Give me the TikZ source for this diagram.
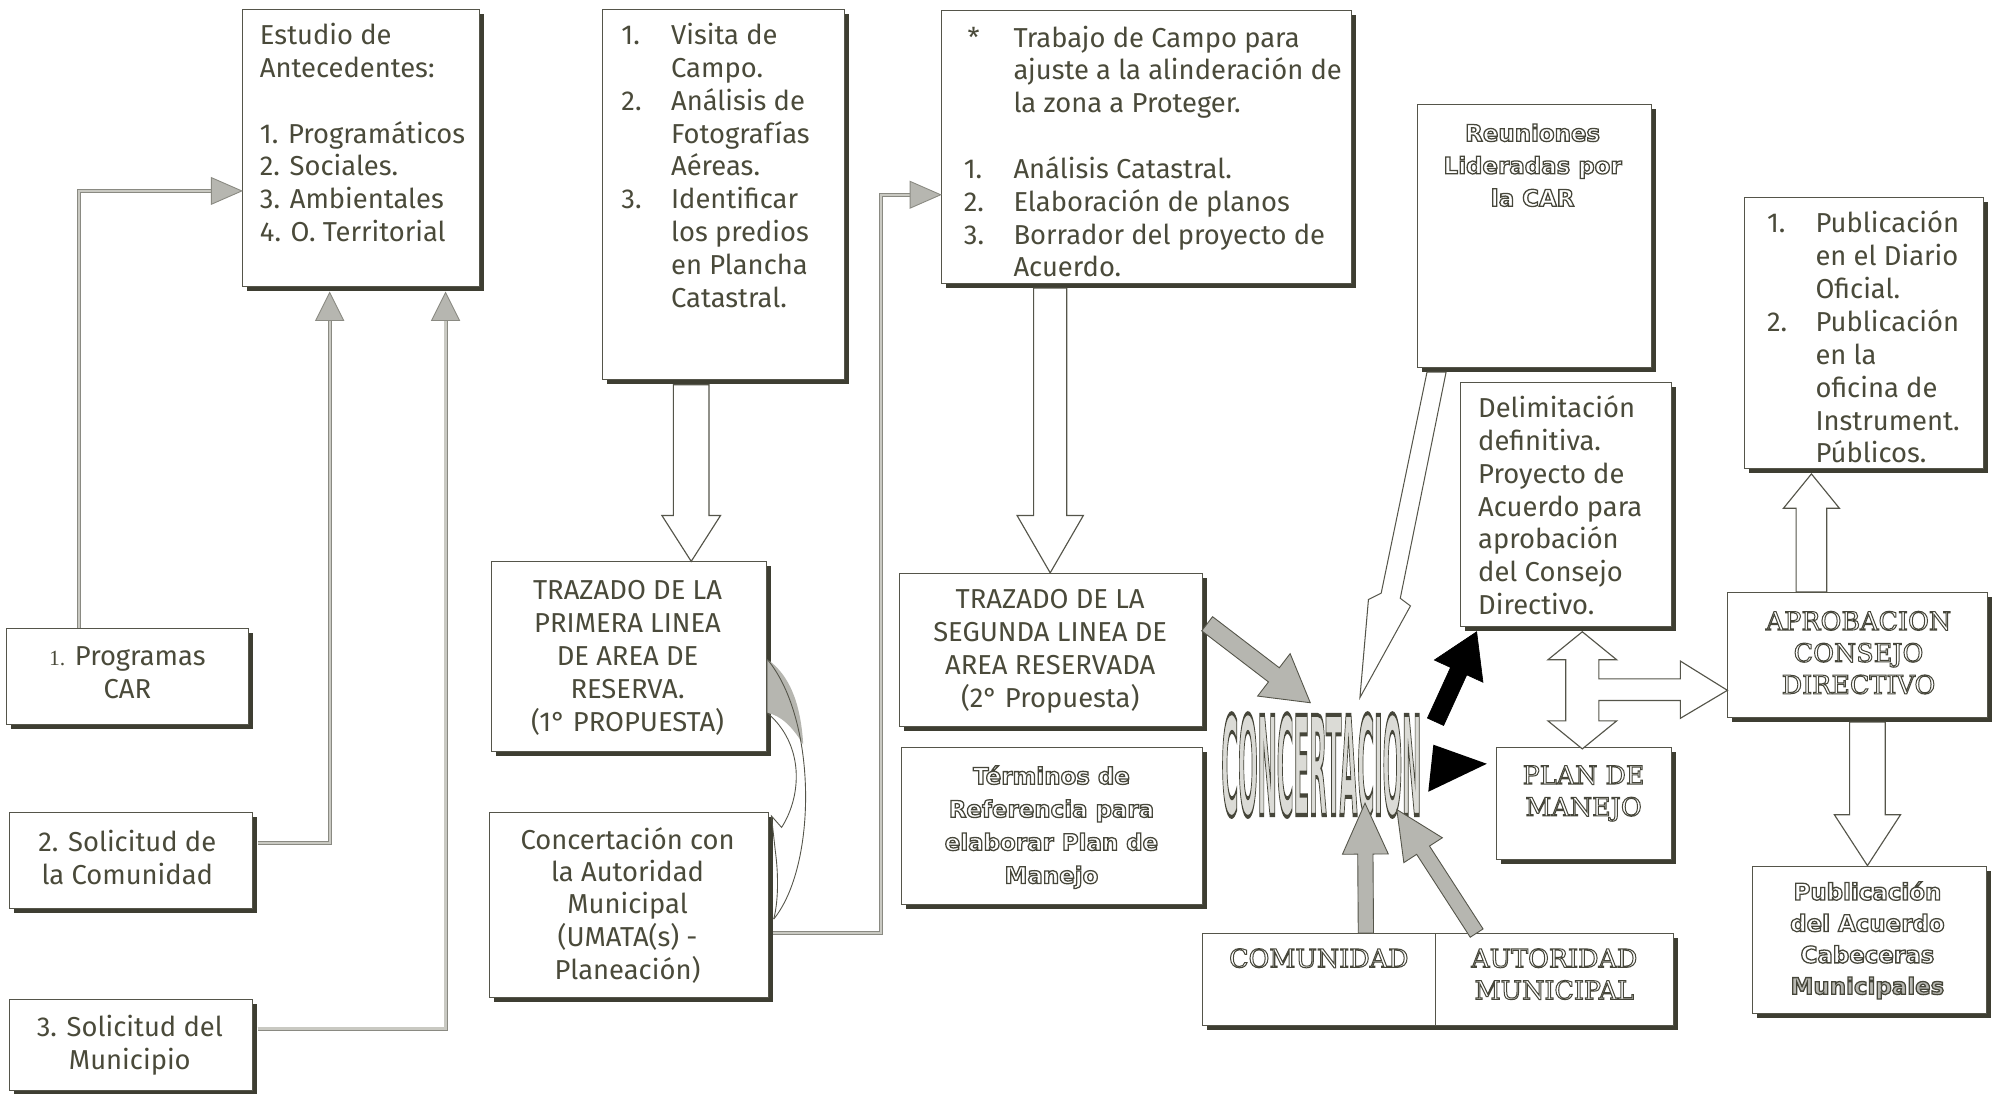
\documentclass[tikz,border=0pt]{standalone}
\usepackage{fontspec}
\usepackage{graphicx}
\setmainfont{Fira Sans}
\newfontfamily\olsans{DejaVu Sans}
\newfontfamily\olserif{DejaVu Serif}
\newfontfamily\numserif{Liberation Serif}
\usetikzlibrary{calc,shadows,arrows.meta}
\definecolor{txtc}{HTML}{4A4A3A}
\definecolor{edgec}{HTML}{55554A}
\definecolor{shdc}{HTML}{3E3E32}
\definecolor{connc}{HTML}{8A8A82}
\definecolor{conninc}{HTML}{C9C9C2}
\definecolor{tipfc}{HTML}{B6B6B0}
\definecolor{olc}{HTML}{46463A}
% outlined text: stroke only
\newcommand\outl[2][1.0]{\special{pdf:literal direct #1 w 1 Tr}#2\special{pdf:literal direct 0 Tr}}
% outlined text with a grey fill
\newcommand\outlf[3][1.0]{\special{pdf:literal direct #2 rg #1 w 2 Tr}#3\special{pdf:literal direct 0 Tr}}
\newcommand\tipright[1]{\draw[tipst] (#1) -- ++(-24,-10.5) -- ++(0,21) -- cycle;}
\newcommand\tipup[1]{\draw[tipst] (#1) -- ++(-11,22) -- ++(22,0) -- cycle;}
\newcommand\blockarrow[6]{%
  \coordinate (ba1) at #2; \coordinate (ba2) at #3;
  \coordinate (bah) at ($(ba2)!#6!(ba1)$);
  \draw[#1] ($(ba1)!#4!90:(ba2)$) -- ($(bah)!#4!90:(ba2)$) -- ($(bah)!#5!90:(ba2)$) -- (ba2)
     -- ($(bah)!#5!-90:(ba2)$) -- ($(bah)!#4!-90:(ba2)$) -- ($(ba1)!#4!-90:(ba2)$) -- cycle;}
\begin{document}
\begin{tikzpicture}[x=1pt,y=-1pt, font=\fontsize{21.5}{25.8}\selectfont,
 box/.style={draw=edgec, line width=0.8pt, fill=white, inner sep=0pt, anchor=north west,
   general shadow={fill=shdc, shadow xshift=3.5pt, shadow yshift=-3.5pt}},
 tl/.style={inner sep=0pt, text=txtc},
 olbox/.style={inner sep=0pt, text=olc, font=\olsans\bfseries\fontsize{18}{25.5}\selectfont},
 olcaps/.style={inner sep=0pt, text=olc, font=\olserif\fontsize{20}{25}\selectfont},
 conn/.style={draw=connc, line width=0.7pt, double=conninc, double distance=1.8pt, line join=miter},
 tipst/.style={fill=tipfc, draw=connc, line width=0.7pt, line join=miter},
 hollow/.style={fill=white, draw=edgec, line width=0.9pt, line join=miter},
 grayarr/.style={fill=tipfc, draw=edgec, line width=0.7pt, line join=miter},
 blackarr/.style={fill=black, draw=black, line width=0.5pt, line join=miter}]
\useasboundingbox (0,0) rectangle (1568,859);
\fill[white] (0,0) rectangle (1568,859);

% boxes
\node[box, minimum width=186, minimum height=218] (A) at (190,7) {};
\node[box, minimum width=190, minimum height=291] (B) at (473,7) {};
\node[box, minimum width=322, minimum height=214] (C) at (739,8) {};
\node[box, minimum width=184, minimum height=206] (D) at (1113,82) {};
\node[box, minimum width=188, minimum height=213] (E) at (1370,155) {};
\node[box, minimum width=166, minimum height=192] (F) at (1147,300) {};
\node[box, minimum width=204, minimum height=98] (G) at (1357,465) {};
\node[box, minimum width=138, minimum height=88] (H) at (1175,587) {};
\node[box, minimum width=184, minimum height=116] (I) at (1376,680) {};
\node[box, minimum width=370, minimum height=72] (J) at (944,733) {};
\node[box, minimum width=238, minimum height=120] (K) at (706,450) {};
\node[box, minimum width=236, minimum height=123] (L) at (708,587) {};
\node[box, minimum width=216, minimum height=149] (M) at (386,441) {};
\node[box, minimum width=219, minimum height=145] (N) at (384,638) {};
\node[box, minimum width=190, minimum height=76] (O) at (5,493) {};
\node[box, minimum width=191, minimum height=75] (P) at (7,638) {};
\node[box, minimum width=191, minimum height=71] (Q) at (7,785) {};
\draw[draw=edgec, line width=0.8pt] ($(J.north west)+(184,0)$) -- ($(J.south west)+(184,0)$);

% texts
\node[tl, anchor=base west] (At) at (204,35) {\begin{tabular}[t]{@{}l@{}}Estudio de\\Antecedentes:\\[25.8pt]1. Programáticos\\2. Sociales.\\3. Ambientales\\4. O. Territorial\end{tabular}};
\node[tl, anchor=base west] (Bt) at (488,35) {\begin{tabular}[t]{@{}p{39pt}@{}l@{}}1.&Visita de\\&Campo.\\2.&Análisis de\\&Fotografías\\&Aéreas.\\3.&Identificar\\&los predios\\&en Plancha\\&Catastral.\end{tabular}};
\node[tl, anchor=base west] (Ct) at (757,37) {\begin{tabular}[t]{@{}p{39pt}@{}l@{}}\hspace{3pt}*&Trabajo de Campo para\\&ajuste a la alinderación de\\&la zona a Proteger.\\[25.8pt]1.&Análisis Catastral.\\2.&Elaboración de planos\\3.&Borrador del proyecto de\\&Acuerdo.\end{tabular}};
\node[olbox, anchor=base] (Dt) at (1204,111) {\outl{\begin{tabular}[t]{@{}c@{}}Reuniones\\Lideradas por\\la CAR\end{tabular}}};
\node[tl, anchor=base west] (Et) at (1388,183) {\begin{tabular}[t]{@{}p{38pt}@{}l@{}}1.&Publicación\\&en el Diario\\&Oficial.\\2.&Publicación\\&en la\\&oficina de\\&Instrument.\\&Públicos.\end{tabular}};
\node[tl, anchor=base west] (Ft) at (1161,328) {\begin{tabular}[t]{@{}l@{}}Delimitación\\definitiva.\\Proyecto de\\Acuerdo para\\aprobación\\del Consejo\\Directivo.\end{tabular}};
\node[olcaps, anchor=base] (Gt) at (1460,495) {\outl[0.8]{\begin{tabular}[t]{@{}c@{}}APROBACION\\CONSEJO\\DIRECTIVO\end{tabular}}};
\node[olcaps, anchor=base] (Ht) at (1244,616) {\outl[0.8]{\begin{tabular}[t]{@{}c@{}}PLAN DE\\MANEJO\end{tabular}}};
\node[olbox, anchor=base, font=\olsans\bfseries\fontsize{18}{24.7}\selectfont] (It) at (1467,707) {\outl{\begin{tabular}[t]{@{}c@{}}Publicación\\del Acuerdo\\Cabeceras\\\outlf{0.72 0.72 0.70}{Municipales}\end{tabular}}};
\node[olcaps, anchor=base] (J1t) at (1036,760) {\outl[0.8]{COMUNIDAD}};
\node[olcaps, anchor=base] (J2t) at (1221,760) {\outl[0.8]{\begin{tabular}[t]{@{}c@{}}AUTORIDAD\\MUNICIPAL\end{tabular}}};
\node[tl, anchor=base] (Kt) at (825,478) {\begin{tabular}[t]{@{}c@{}}TRAZADO DE LA\\SEGUNDA LINEA DE\\AREA RESERVADA\\(2° Propuesta)\end{tabular}};
\node[olbox, anchor=base, font=\olsans\bfseries\fontsize{18}{26}\selectfont] (Lt) at (826,616) {\outl{\begin{tabular}[t]{@{}c@{}}Términos de\\Referencia para\\elaborar Plan de\\Manejo\end{tabular}}};
\node[tl, anchor=base] (Mt) at (493,471) {\begin{tabular}[t]{@{}c@{}}TRAZADO DE LA\\PRIMERA LINEA\\DE AREA DE\\RESERVA.\\(1° PROPUESTA)\end{tabular}};
\node[tl, anchor=base, font=\fontsize{21.5}{25.5}\selectfont] (Nt) at (493,667) {\begin{tabular}[t]{@{}c@{}}Concertación con\\la Autoridad\\Municipal\\(UMATA(s) -\\Planeación)\end{tabular}};
\node[tl, anchor=base] (Ot) at (100,523) {\begin{tabular}[t]{@{}c@{}}{\numserif\fontsize{17}{20}\selectfont 1.} Programas\\CAR\end{tabular}};
\node[tl, anchor=base] (Pt) at (100,669) {\begin{tabular}[t]{@{}c@{}}2. Solicitud de\\la Comunidad\end{tabular}};
\node[tl, anchor=base] (Qt) at (102,814) {\begin{tabular}[t]{@{}c@{}}3. Solicitud del\\Municipio\end{tabular}};

% CONCERTACION
\node[inner sep=0pt, text=olc] (CC) at (1038,601) {\resizebox{157pt}{80pt}{\olsans\bfseries\fontsize{24}{24}\selectfont\outlf[0.7]{0.86 0.86 0.84}{CONCERTACION}}};

% thin connectors
\coordinate (o1) at ($(O.north west)+(57,0)$);
\coordinate (a1) at ($(A.north west)+(0,143)$);
\draw[conn] (o1) |- ($(a1)+(-24,0)$);
\tipright{a1}
\coordinate (p1) at ($(P.north east)+(3.5,24)$);
\coordinate (a2) at ($(A.south west)+(69,4)$);
\draw[conn] (p1) -| ($(a2)+(0,22)$);
\tipup{a2}
\coordinate (q1) at ($(Q.north east)+(3.5,23)$);
\coordinate (a3) at ($(A.south west)+(160,4)$);
\draw[conn] (q1) -| ($(a3)+(0,22)$);
\tipup{a3}
\coordinate (n1) at ($(N.north east)+(3.5,95)$);
\coordinate (c1) at ($(C.north west)+(0,145)$);
\draw[conn] (n1) -| ($(c1)+(-47,0)$) -- ($(c1)+(-24,0)$);
\tipright{c1}

% curved arrow between M and N
\coordinate (m1) at ($(M.north east)+(0,77)$);
\coordinate (m2) at ($(M.north east)+(0,119)$);
\coordinate (n2) at ($(N.north east)+(4,84)$);
\fill[tipfc] (m1) .. controls (620,530) and (629,552) .. (631,585) .. controls (622,570) and (613,562) .. (m2) -- cycle;
\draw[edgec, line width=0.7pt] (m1) .. controls (642,565) and (642,680) .. (n2);
\draw[edgec, line width=0.7pt, line join=miter] (m2) .. controls (632,585) and (630,625) .. (614,650) -- (606,641) -- (609,668) .. controls (612,690) and (611,710) .. (n2);

% hollow block arrows
\blockarrow{hollow}{($(B.south west)+(70,3.5)$)}{($(M.north west)+(157,0)$)}{14pt}{23pt}{36pt}
\blockarrow{hollow}{($(C.south west)+(86,3.5)$)}{($(K.north west)+(119,0)$)}{13pt}{26pt}{45pt}
\blockarrow{hollow}{($(G.north west)+(66,0)$)}{($(E.south west)+(53,3.5)$)}{12pt}{22pt}{27pt}
\blockarrow{hollow}{($(G.south west)+(110,3.5)$)}{($(I.north west)+(91,0)$)}{14pt}{26pt}{40pt}
\coordinate (dt) at ($(F.south west)+(96,3.5)$);
\begin{scope}[shift={(dt)}]
\draw[hollow] (0,0) -- (27,22) -- (13,22) -- (13,37) -- (77,37) -- (77,23) -- (114,46) -- (77,68) -- (77,54)
  -- (13,54) -- (13,70) -- (27,70) -- (0,92) -- (-27,70) -- (-13,70) -- (-13,22) -- (-27,22) -- cycle;
\end{scope}

% lightning arrow from D
\coordinate (l1) at ($(D.south west)+(8,3.5)$);
\coordinate (l2) at ($(D.south west)+(23,3.5)$);
\coordinate (lt) at ($(CC.north west)+(109,-12)$);
\draw[hollow, line width=0.8pt] (l1) -- (1085,466) -- (1075,471) -- (lt) -- (1108,476) -- (1100,470) -- (l2) -- cycle;

% gray filled arrows
\blockarrow{grayarr}{($(K.north east)+(3.5,40)$)}{($(CC.north west)+(70,-8)$)}{7pt}{21pt}{36pt}
\blockarrow{grayarr}{($(J.north west)+(129,0)$)}{($(CC.south west)+(113,-11)$)}{6pt}{18pt}{40pt}
\blockarrow{grayarr}{($(J.north west)+(216,0)$)}{($(CC.south west)+(138,-6)$)}{6pt}{18pt}{38pt}

% black arrows
\blockarrow{blackarr}{($(CC.east)+(11,-34)$)}{($(F.south west)+(13,3.5)$)}{7pt}{21pt}{34pt}
\coordinate (ht) at ($(H.north west)+(-7,13)$);
\fill[black] (ht) -- ++(-42,-15) -- ++(-4,37) -- cycle;
\end{tikzpicture}
\end{document}
